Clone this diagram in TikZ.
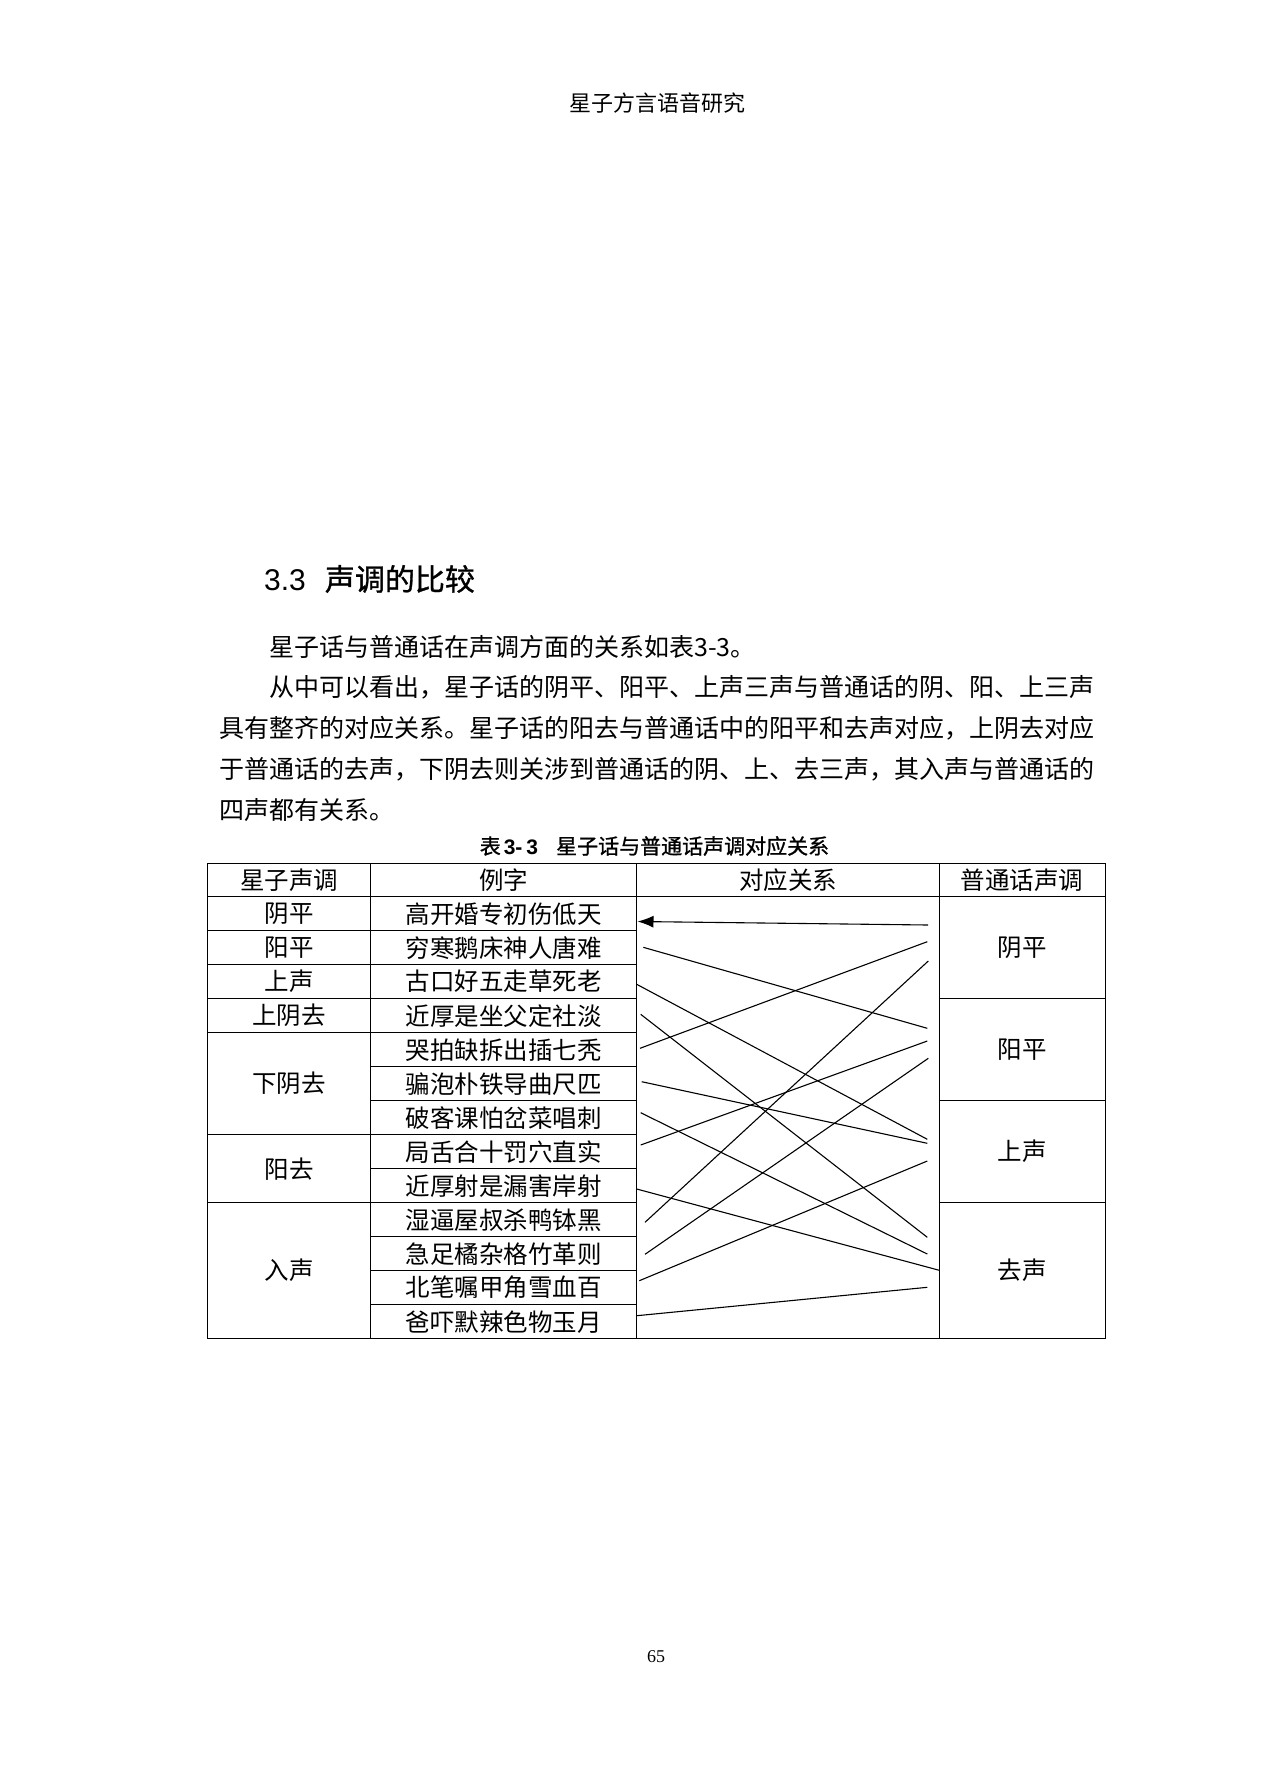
\documentclass[tikz,border=0pt]{standalone}
\usepackage{fontspec}
\setmainfont{Liberation Serif}
\newfontfamily\cjk{Noto Sans CJK SC}
\newfontfamily\cjkhei[FakeBold=1]{Noto Sans CJK SC}
\newfontfamily\arial{Liberation Sans}
\usetikzlibrary{arrows.meta}
\tikzset{cell/.style={inner sep=0pt,font=\cjk\fontsize{24.5}{24.5}\selectfont},
bodyline/.style={anchor=west,inner sep=0pt,font=\cjk\fontsize{25}{25}\selectfont},
hrule/.style={line width=1.5pt,line cap=rect},
vrule/.style={line width=1pt},
link/.style={line width=1.1pt}}

\begin{document}
\begin{tikzpicture}[x=1pt,y=-1pt]
\useasboundingbox[fill=white] (0,0) rectangle (1261,1783);
\node[inner sep=0pt,font=\cjk\fontsize{22}{22}\selectfont] (runhead) at (657,103) {星子方言语音研究};
\node[anchor=west,inner sep=0pt] (heading) at (264,579) {{\arial\fontsize{30}{30}\selectfont 3.3}\hspace{19pt}{\cjkhei\fontsize{30}{30}\selectfont 声调的比较}};

\node[bodyline] (para1) at (269,646.5) {星子话与普通话在声调方面的关系如表3-3。};
\node[bodyline] (para2) at (269,687.3) {从中可以看出，星子话的阴平、阳平、上声三声与普通话的阴、阳、上三声};
\node[bodyline] (para3) at (219,728.1) {具有整齐的对应关系。星子话的阳去与普通话中的阳平和去声对应，上阴去对应};
\node[bodyline] (para4) at (219,769) {于普通话的去声，下阴去则关涉到普通话的阴、上、去三声，其入声与普通话的};
\node[bodyline] (para5) at (219,809.9) {四声都有关系。};

\node[anchor=west,inner sep=0pt,font=\fontsize{21}{21}\selectfont] (caption) at (479.6,846) {{\cjkhei 表}\hspace{3pt}{\arial\bfseries 3-\hspace{4pt}3}\hspace{18pt}{\cjkhei 星子话与普通话声调对应关系}};

\foreach \yline in {863.3,896.7,1338.7}{
\draw[hrule] (207.7,\yline) -- (1105,\yline);
}
\foreach \r in {1,2,3,4,7,9}{
\draw[hrule] (207.7,{896.7+34*\r}) -- (370.7,{896.7+34*\r});
}
\foreach \r in {1,...,12}{
\draw[hrule] (370.7,{896.7+34*\r}) -- (636.7,{896.7+34*\r});
}
\foreach \r in {3,6,9}{
\draw[hrule] (939.5,{896.7+34*\r}) -- (1105,{896.7+34*\r});
}
\foreach \xline in {207.7,370.7,636.7,939.5,1105}{
\draw[vrule] (\xline,863.3) -- (\xline,1338.7);
}

\node[cell] (head1) at (289.2,880) {星子声调};
\node[cell] (head2) at (503.7,880) {例字};
\node[cell] (head3) at (788.1,880) {对应关系};
\node[cell] (head4) at (1022.2,880) {普通话声调};

\node[cell] (xz1) at (289.2,913.7) {阴平};
\node[cell] (xz2) at (289.2,947.7) {阳平};
\node[cell] (xz3) at (289.2,981.7) {上声};
\node[cell] (xz4) at (289.2,1015.7) {上阴去};
\node[cell] (xz5) at (289.2,1083.7) {下阴去};
\node[cell] (xz6) at (289.2,1168.7) {阳去};
\node[cell] (xz7) at (289.2,1270.7) {入声};

\foreach \chars [count=\i] in {高开婚专初伤低天,穷寒鹅床神人唐难,古口好五走草死老,近厚是坐父定社淡,哭拍缺拆出插七秃,骗泡朴铁导曲尺匹,破客课怕岔菜唱刺,局舌合十罚穴直实,近厚射是漏害岸射,湿逼屋叔杀鸭钵黑,急足橘杂格竹革则,北笔嘱甲角雪血百,爸吓默辣色物玉月}{
\node[cell] (ex\i) at (503.7,{896.7+34*\i-17}) {\chars};
}

\node[cell] (pt1) at (1022.2,947.7) {阴平};
\node[cell] (pt2) at (1022.2,1049.7) {阳平};
\node[cell] (pt3) at (1022.2,1151.7) {上声};
\node[cell] (pt4) at (1022.2,1270.7) {去声};

\foreach \xv/\yv [count=\i] in {637.5/921.5,643.3/947.3,636.7/984.3,640.7/1014.3,640/1048.3,641.7/1081.7,640.7/1112.7,640.7/1145,636.7/1189,645/1222.3,645/1254.3,639.3/1280.7,636.7/1315.7}{
\coordinate (from\i) at (\xv,\yv);
}
\coordinate (yin1) at (928,925);
\coordinate (yin2) at (927.3,941.7);
\coordinate (yin3) at (928.3,961);
\coordinate (yang1) at (927.3,1028.3);
\coordinate (yang2) at (927.3,1041);
\coordinate (yang3) at (928.3,1058.3);
\coordinate (shang1) at (927.3,1139.3);
\coordinate (shang2) at (927.3,1143.3);
\coordinate (shang3) at (927.3,1161);
\coordinate (qu1) at (927.3,1237.3);
\coordinate (qu2) at (927.3,1254);
\coordinate (qu3) at (939.3,1270.3);
\coordinate (qu4) at (927.3,1287.3);

\draw[link,{Latex[length=16pt,width=12pt]}-] (from1) -- (yin1);
\foreach \a/\b in {from2/yang1,from3/shang1,from4/qu1,from5/yin2,from6/shang2,from7/qu2,from8/yang2,from9/qu3,from10/yin3,from11/yang3,from12/shang3,from13/qu4}{
\draw[link] (\a) -- (\b);
}

\node[inner sep=0pt,font=\fontsize{18}{18}\selectfont] (pagenum) at (656,1657) {65};
\end{tikzpicture}
\end{document}
